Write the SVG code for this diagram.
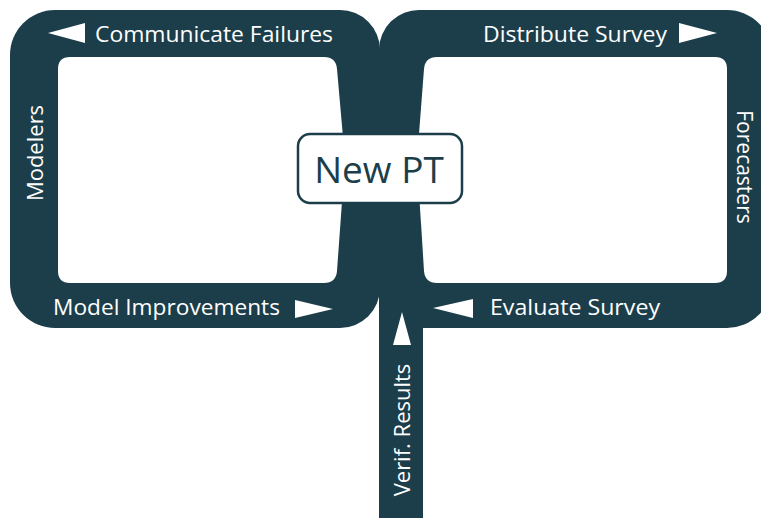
<svg xmlns="http://www.w3.org/2000/svg" width="761" height="518" viewBox="0 0 761 518">
  <style>
    .band { fill: #1c3e4a; }
    .hole { fill: #ffffff; }
    .arrow { fill: #ffffff; }
    .lbl { font-family: "Open Sans", "Liberation Sans", sans-serif; font-size: 21px; fill: #ffffff; }
    .vlbl { font-size: 22px; }
    .core { font-family: "Open Sans", "Liberation Sans", sans-serif; font-size: 37px; fill: #1c3e4a; }
  </style>
  <rect width="761" height="518" fill="#ffffff"/>

  <!-- loop bands and the results stem -->
  <g id="connectors">
    <path class="band" d="M55,10 H340 A40,40 0 0 1 380,50 V288 A40,40 0 0 1 340,328 H55 A45,45 0 0 1 10,283 V55 A45,45 0 0 1 55,10 Z"/>
    <path class="band" d="M420,10 H727 A45,45 0 0 1 772,55 V283 A45,45 0 0 1 727,328 H423 V518 H379 V50 A40,40 0 0 1 420,10 Z"/>
    <!-- inner openings of each loop -->
    <path class="hole" d="M70,57 H324 Q336,57 337,69 L345,160 L337,271 Q336,283 324,283 H70 Q58,283 58,271 V69 Q58,57 70,57 Z"/>
    <path class="hole" d="M437,57 H715 Q727,57 727,69 V271 Q727,283 715,283 H437 Q425,283 424,271 L417,160 L424,69 Q425,57 437,57 Z"/>
    <!-- direction arrows -->
    <polygon class="arrow" points="48,33 85,23 85,43"/>
    <polygon class="arrow" points="717,33 679,23 679,43"/>
    <polygon class="arrow" points="333,309 295,300 295,318"/>
    <polygon class="arrow" points="433,308 473,299 473,318"/>
    <polygon class="arrow" points="402,312 393,345 411,345"/>
  </g>

  <g id="communicate-failures">
    <text class="lbl" x="95" y="42" textLength="238" lengthAdjust="spacingAndGlyphs">Communicate Failures</text>
  </g>
  <g id="distribute-survey">
    <text class="lbl" x="483" y="42" textLength="184" lengthAdjust="spacingAndGlyphs">Distribute Survey</text>
  </g>
  <g id="model-improvements">
    <text class="lbl" x="53" y="315" textLength="227" lengthAdjust="spacingAndGlyphs">Model Improvements</text>
  </g>
  <g id="evaluate-survey">
    <text class="lbl" x="490" y="315" textLength="170" lengthAdjust="spacingAndGlyphs">Evaluate Survey</text>
  </g>
  <g id="modelers">
    <text class="lbl vlbl" transform="translate(43,153) rotate(-90)" text-anchor="middle">Modelers</text>
  </g>
  <g id="forecasters">
    <text class="lbl" transform="translate(737,167) rotate(90)" text-anchor="middle">Forecasters</text>
  </g>
  <g id="verif-results">
    <text class="lbl vlbl" transform="translate(410,430) rotate(-90)" text-anchor="middle">Verif. Results</text>
  </g>
  <g id="new-pt">
    <rect x="298" y="134" width="164" height="69" rx="12" fill="#ffffff" stroke="#1c3e4a" stroke-width="2.5"/>
    <text class="core" x="379" y="183" text-anchor="middle">New PT</text>
  </g>
</svg>
